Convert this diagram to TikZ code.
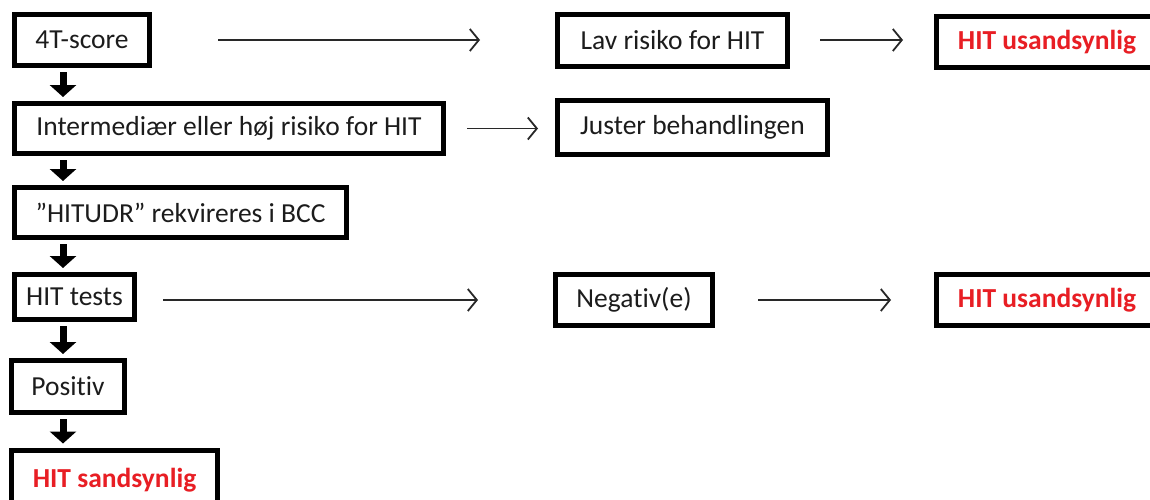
\documentclass[tikz,border=0pt]{standalone}
\usepackage{fontspec}
\setmainfont[Ligatures=NoCommon]{Carlito}
\usetikzlibrary{arrows.meta,calc}
\definecolor{hitred}{RGB}{232,30,36}
\definecolor{txt}{RGB}{28,28,28}
\definecolor{arr}{RGB}{40,40,40}
\tikzset{
  box/.style={draw=black, line width=5pt, fill=white, inner sep=0pt, text=txt,
    font=\fontsize{27.5}{33}\selectfont, anchor=center},
  redtext/.style={text=hitred, font=\fontsize{27.5}{33}\selectfont\bfseries},
  thinarrow/.style={draw=arr, line width=1.8pt, -{Straight Barb[length=9pt,width=22pt,line width=1.8pt]}},
  blockarrow/.style={draw=black, line width=7pt, -{Triangle[width=26pt,length=12pt]}, shorten <=4pt, shorten >=4pt}
}
\begin{document}
\begin{tikzpicture}[x=1pt,y=-1pt]
\useasboundingbox (0,0) rectangle (1150,499);
\fill[white] (0,0) rectangle (1150,499);
\clip (0,0) rectangle (1150,499);
\coordinate (colx) at (63,0);
% left column
\node[box, minimum width=135pt, minimum height=51pt] (t4) at (82,40) {4T-score};
\node[box, minimum width=429pt, minimum height=50pt] (inter) at (229,128.5) {Intermediær eller høj risiko for HIT};
\node[box, minimum width=332pt, minimum height=50pt] (udr) at (180.5,212.5) {”HITUDR” rekvireres i BCC};
\node[box, minimum width=120pt, minimum height=45pt] (tests) at (74.5,297) {HIT tests};
\node[box, minimum width=113pt, minimum height=52pt] (pos) at (68,386.5) {Positiv};
\node[box, minimum width=206pt, minimum height=60pt, redtext] (hs) at (114.5,480) {HIT sandsynlig};
% right side
\node[box, minimum width=230pt, minimum height=52pt] (lav) at (672.5,40.5) {Lav risiko for HIT};
\node[box, minimum width=221pt, minimum height=51pt, redtext] (hu1) at (1047,42) {HIT usandsynlig};
\node[box, minimum width=270pt, minimum height=54pt] (juster) at (692.5,127.5) {Juster behandlingen};
\node[box, minimum width=157pt, minimum height=51pt] (neg) at (634,300) {Negativ(e)};
\node[box, minimum width=221pt, minimum height=51pt, redtext] (hu2) at (1047,300) {HIT usandsynlig};
% horizontal arrows
\draw[thinarrow, shorten <=66pt, shorten >=75pt] (t4.east) -- (t4.east -| lav.west);
\draw[thinarrow, shorten <=30pt, shorten >=31pt] (lav.east |- t4.east) -- (t4.east -| hu1.west);
\draw[thinarrow, shorten <=21pt, shorten >=17pt] (inter.east) -- (inter.east -| juster.west);
\draw[thinarrow, shorten <=26pt, shorten >=75pt] (tests.east |- neg.west) -- (neg.west);
\draw[thinarrow, shorten <=43pt, shorten >=43pt] (neg.east) -- (neg.east -| hu2.west);
% vertical block arrows
\draw[blockarrow] (t4.south -| colx) -- (inter.north -| colx);
\draw[blockarrow] (inter.south -| colx) -- (udr.north -| colx);
\draw[blockarrow] (udr.south -| colx) -- (tests.north -| colx);
\draw[blockarrow] (tests.south -| colx) -- (pos.north -| colx);
\draw[blockarrow] (pos.south -| colx) -- (hs.north -| colx);
\end{tikzpicture}
\end{document}
